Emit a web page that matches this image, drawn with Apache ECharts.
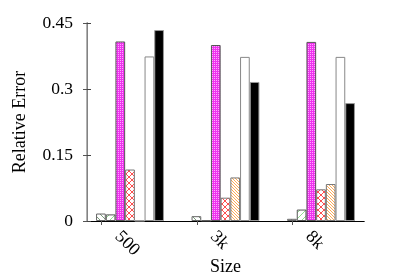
<!DOCTYPE html>
<html><head><meta charset="utf-8">
<script src="https://cdn.jsdelivr.net/npm/echarts@6/dist/echarts.min.js"></script>
<style>html,body{margin:0;padding:0;background:#fff}#c{width:399px;height:279px}</style>
</head><body><div id="c"></div>
<script>
const categories = ['500', '3k', '8k'];
const s1 = [0.017, 0.011, 0.005];
const s2 = [0.015, 0.001, 0.026];
const s3 = [0.408, 0.400, 0.407];
const s4 = [0.117, 0.053, 0.072];
const s5 = [0, 0.099, 0.084];
const s6 = [0.374, 0.373, 0.373];
const s7 = [0.434, 0.316, 0.268];
const yTicks = [0, 0.15, 0.3, 0.45];

function pat(w, h, draw) {
  const c = document.createElement('canvas');
  c.width = w; c.height = h;
  const g = c.getContext('2d');
  g.fillStyle = '#fff'; g.fillRect(0, 0, w, h);
  draw(g);
  return { image: c, repeat: 'repeat' };
}
function diag(g, w, h, col, back, fwd) {
  g.strokeStyle = col; g.lineWidth = 1;
  g.beginPath();
  if (back) { g.moveTo(-1, -1); g.lineTo(w + 1, h + 1); g.moveTo(-1 - w, -1); g.lineTo(1, h + 1); g.moveTo(w - 1, -1); g.lineTo(2 * w + 1, h + 1); }
  if (fwd) { g.moveTo(-1, h + 1); g.lineTo(w + 1, -1); g.moveTo(-1 - w, h + 1); g.lineTo(1, -1); g.moveTo(w - 1, h + 1); g.lineTo(2 * w + 1, -1); }
  g.stroke();
}
const p1 = pat(6, 6, g => diag(g, 6, 6, '#7a9a7a', true, false));
const p2 = pat(6, 6, g => diag(g, 6, 6, '#8fdc8f', false, true));
const p3 = pat(2, 2, g => { g.fillStyle = '#ee33ee'; g.fillRect(0, 0, 2, 2); g.fillStyle = '#ffa8ff'; g.fillRect(0, 0, 1, 1); });
const p4 = pat(6, 6, g => diag(g, 6, 6, '#ff5050', true, true));
const p5 = pat(3, 3, g => diag(g, 3, 3, '#ffaa55', true, false));

const seriesData = [s1, s2, s3, s4, s5, s6, s7];
const fills = [p1, p2, p3, p4, p5, '#ffffff', '#000000'];
const borders = ['#666', '#555', '#555', '#777', '#777', '#888', '#999'];

const font = 'Liberation Serif';
const fs = 17.5;
const G = { top: 23, bottom: 58, containLabel: false, outerBoundsMode: 'none' };
const chart = echarts.init(document.getElementById('c'), null, { renderer: 'canvas' });
chart.setOption({
  animation: false,
  grid: [
    Object.assign({ left: 87, right: 35 }, G),
    Object.assign({ left: 82.25, right: 30.25 }, G),
    Object.assign({ left: 54, right: 59 }, G),
    Object.assign({ left: 70, right: 43 }, G)
  ],
  xAxis: [
    { gridIndex: 0, type: 'value', min: 0, max: 1, position: 'bottom',
      axisLine: { show: true, lineStyle: { color: '#000', width: 1 } }, axisTick: { show: false }, axisLabel: { show: false }, splitLine: { show: false },
      name: 'Size', nameLocation: 'middle', nameGap: 37, nameTextStyle: { fontFamily: font, fontSize: 18, color: '#000' } },
    { gridIndex: 0, type: 'value', min: 0, max: 1, position: 'top',
      axisLine: { show: true, lineStyle: { color: '#000', width: 1 } }, axisTick: { show: false }, axisLabel: { show: false }, splitLine: { show: false } },
    { gridIndex: 1, type: 'category', data: categories, show: false },
    { gridIndex: 2, type: 'category', data: categories, position: 'top',
      axisLine: { show: false }, axisTick: { show: true, inside: true, alignWithLabel: true, length: 4, lineStyle: { color: '#555' } },
      axisLabel: { show: false } },
    { gridIndex: 3, type: 'category', data: categories, position: 'bottom',
      axisLine: { show: false }, axisTick: { show: false },
      axisLabel: { rotate: -45, margin: 13, fontFamily: font, fontSize: 18, color: '#000' } }
  ],
  yAxis: [
    { gridIndex: 0, type: 'value', min: 0, max: 0.45, interval: 0.15, position: 'left',
      axisLine: { show: true, lineStyle: { color: '#444', width: 1 } },
      axisTick: { show: true, inside: true, length: 4, lineStyle: { color: '#444' } },
      axisLabel: { margin: 14, fontFamily: font, fontSize: fs, color: '#000',
        formatter: v => { const t = yTicks.find(x => Math.abs(x - v) < 1e-9); return t === undefined ? '' : String(t); } },
      splitLine: { show: false },
      name: 'Relative Error', nameLocation: 'middle', nameGap: 58, nameRotate: 90,
      nameTextStyle: { fontFamily: font, fontSize: 18, color: '#000' } },
    { gridIndex: 0, type: 'value', min: 0, max: 0.45, interval: 0.15, position: 'right',
      axisLine: { show: true, lineStyle: { color: '#999', width: 1.5 } },
      axisTick: { show: true, inside: true, length: 4, lineStyle: { color: '#555' } },
      axisLabel: { show: false }, splitLine: { show: false } },
    { gridIndex: 1, type: 'value', min: 0, max: 0.45, show: false, splitLine: { show: false } },
    { gridIndex: 2, type: 'value', min: 0, max: 0.45, show: false, splitLine: { show: false } },
    { gridIndex: 3, type: 'value', min: 0, max: 0.45, show: false, splitLine: { show: false } }
  ],
  series: seriesData.map((d, i) => ({
    type: 'bar', xAxisIndex: 2, yAxisIndex: 2, data: d,
    barWidth: 9.7, barGap: '0%', z: 3,
    itemStyle: { color: fills[i], borderColor: borders[i], borderWidth: 1 }
  }))
});
</script></body></html>
